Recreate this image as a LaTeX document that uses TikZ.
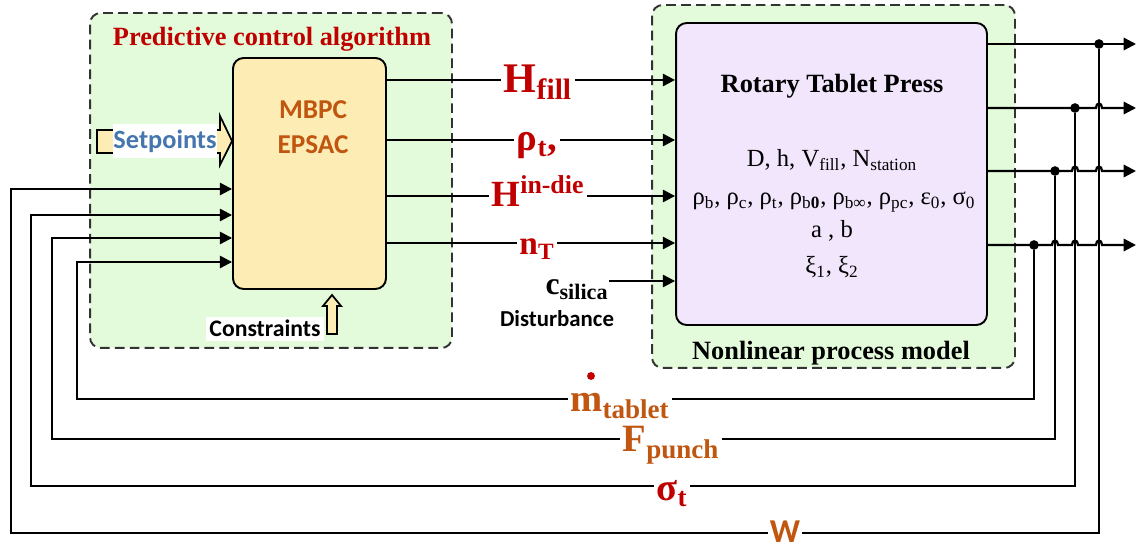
\documentclass[tikz,border=0pt]{standalone}
\usepackage{fontspec}
\setmainfont{Liberation Serif}
\newfontfamily\carl{Carlito}
\usetikzlibrary{arrows.meta}
\definecolor{cred}{HTML}{C00000}
\definecolor{cbrown}{HTML}{C0560F}
\definecolor{cblue}{HTML}{4676AE}
\definecolor{cgreen}{HTML}{E3FBDA}
\definecolor{cpurple}{HTML}{F1E6FC}
\definecolor{cyellow}{HTML}{FDEDB4}
\begin{document}
\begin{tikzpicture}[x=0.02cm,y=-0.02cm,
  wire/.style={line width=1.3pt},
  arr/.style={wire,-{Triangle[length=7pt,width=7pt]}},
  group/.style={draw=black!80, dash pattern=on 5.5pt off 3pt, line width=1.1pt, fill=cgreen, rounded corners=6pt, inner sep=0pt},
  block/.style={draw, line width=1.1pt, rounded corners=6pt, inner sep=0pt},
  lab/.style={fill=white, inner sep=1.5pt, anchor=base},
  bigred/.style={text=cred, font=\bfseries\fontsize{22}{24}\selectfont},
  bigbrown/.style={text=cbrown, font=\bfseries\fontsize{22}{24}\selectfont},
  dotn/.style={circle, fill=black, inner sep=0pt, minimum size=5.5pt},
  param/.style={anchor=base, font=\fontsize{14}{16}\selectfont},
  hollow/.style={draw, line width=1pt, fill=cyellow}]
\useasboundingbox (0,0) rectangle (1137,550);

% groups and blocks
\node[group, minimum width=7.24cm, minimum height=6.7cm] (lgrp) at (271,180.5) {};
\node[group, minimum width=7.26cm, minimum height=7.26cm] (rgrp) at (833.5,186.5) {};
\node[block, fill=cyellow, minimum width=3.06cm, minimum height=4.62cm] (mbpc) at (309.5,173.5) {};
\node[block, fill=cpurple, minimum width=6.22cm, minimum height=6.04cm] (press) at (831.5,174) {};

% texts in groups
\node[anchor=base, text=cred, font=\bfseries\fontsize{15}{18}\selectfont] (ttl) at (272,46) {Predictive control algorithm};
\node[text=cbrown, font=\carl\bfseries\fontsize{15.5}{20}\selectfont, align=center] (algo) at (313,127.5) {MBPC\\EPSAC};
\node[anchor=base, font=\bfseries\fontsize{15}{18}\selectfont] (rtp) at (832,93) {Rotary Tablet Press};
\node[param] (p1) at (832,167) {D, h, V\textsubscript{fill}, N\textsubscript{station}};
\node[param] (p2) at (834,205) {ρ\textsubscript{b}, ρ\textsubscript{c}, ρ\textsubscript{t}, ρ\textsubscript{b\textbf{0}}, ρ\textsubscript{b∞}, ρ\textsubscript{pc}, ε\textsubscript{0}, σ\textsubscript{0}};
\node[param] (p3) at (832,238) {a , b};
\node[param] (p4) at (832,274) {ξ\textsubscript{1}, ξ\textsubscript{2}};
\node[anchor=base, font=\bfseries\fontsize{15}{18}\selectfont] (npm) at (831,360) {Nonlinear process model};

% setpoints hollow arrow
\draw[hollow] (97,130) -- (220,130) -- (220,116) -- (mbpc.west |- 0,141) -- (220,165) -- (220,153) -- (97,153) -- cycle;
\node[fill=white, inner sep=0pt, minimum height=0.68cm, text=cblue, font=\carl\bfseries\fontsize{15}{18}\selectfont] (sp) at (165,141) {Setpoints};

% constraints hollow arrow
\coordinate (ctip) at (332,295);
\draw[hollow] (327,334) -- (327,306) -- (323,306) -- (ctip) -- (341,306) -- (337,306) -- (337,334) -- cycle;
\node[fill=white, anchor=base, inner sep=2pt, font=\carl\bfseries\fontsize{13.5}{16}\selectfont] (cons) at (265,337) {Constraints};

% manipulated inputs
\coordinate (r1) at (538,80);
\coordinate (r2) at (538,140);
\coordinate (r3) at (538,196);
\coordinate (r4) at (538,243);
\draw[arr] (mbpc.east |- r1) -- (press.west |- r1);
\draw[arr] (mbpc.east |- r2) -- (press.west |- r2);
\draw[arr] (mbpc.east |- r3) -- (press.west |- r3);
\draw[arr] (mbpc.east |- r4) -- (press.west |- r4);
\node[lab, bigred, font=\bfseries\fontsize{24}{26}\selectfont] (hf) at (538,93) {H\textsubscript{fill}};
\node[lab, bigred] (rt) at (537,151) {ρ\textsubscript{t},};
\node[lab, bigred, font=\bfseries\fontsize{21}{24}\selectfont] (hd) at (538,207) {H\textsuperscript{in-die}};
\node[lab, bigred, font=\bfseries\fontsize{19}{22}\selectfont] (nt) at (537,255) {n\textsubscript{T}};

% disturbance
\node[anchor=base, inner sep=1pt, font=\bfseries\fontsize{18}{20}\selectfont] (cs) at (577,295) {c\textsubscript{silica}};
\coordinate (csa) at (609,281);
\draw[arr] (csa) -- (press.west |- csa);
\node[anchor=base, font=\carl\bfseries\fontsize{13}{16}\selectfont] (dist) at (557,327) {Disturbance};

% outputs
\node[dotn] (d1) at (1099,44) {};
\node[dotn] (d2) at (1075,108) {};
\node[dotn] (d3) at (1055,171) {};
\node[dotn] (d4) at (1034,245) {};
\coordinate (o1) at (1136,44);
\coordinate (o2) at (1136,108);
\coordinate (o3) at (1136,171);
\coordinate (o4) at (1136,245);
\draw[arr] (press.east |- d1) -- (o1);
\draw[arr] (press.east |- d2) -- (1096,108) .. controls (1096,102) and (1102,102) .. (1102,108) -- (o2);
\draw[arr] (press.east |- d3) -- (1072,171) .. controls (1072,165) and (1078,165) .. (1078,171)
   -- (1096,171) .. controls (1096,165) and (1102,165) .. (1102,171) -- (o3);
\draw[arr] (press.east |- d4) -- (1052,245) .. controls (1052,239) and (1058,239) .. (1058,245)
   -- (1072,245) .. controls (1072,239) and (1078,239) .. (1078,245)
   -- (1096,245) .. controls (1096,239) and (1102,239) .. (1102,245) -- (o4);

% feedback
\coordinate (f1) at (11,533);
\coordinate (f2) at (31,486);
\coordinate (f3) at (52,439);
\coordinate (f4) at (77,399);
\coordinate (i1) at (11,189);
\coordinate (i2) at (31,215);
\coordinate (i3) at (52,238);
\coordinate (i4) at (77,262);
\draw[arr] (d1) |- (f1) |- (mbpc.west |- i1);
\draw[arr] (d2) |- (f2) |- (mbpc.west |- i2);
\draw[arr] (d3) |- (f3) |- (mbpc.west |- i3);
\draw[arr] (d4) |- (f4) |- (mbpc.west |- i4);

% feedback labels
\node[lab, bigbrown] (mt) at (620,412) {m\textsubscript{tablet}};
\node[circle, fill=cred, inner sep=0pt, minimum size=4.5pt] (mdot) at (591,376) {};
\node[lab, bigbrown] (fp) at (671,452) {F\textsubscript{punch}};
\node[lab, bigred] (st) at (672,501) {σ\textsubscript{t}};
\node[lab, inner sep=1pt, text=cbrown, font=\carl\bfseries\fontsize{19}{22}\selectfont] (w) at (785,543) {W};
\end{tikzpicture}
\end{document}
